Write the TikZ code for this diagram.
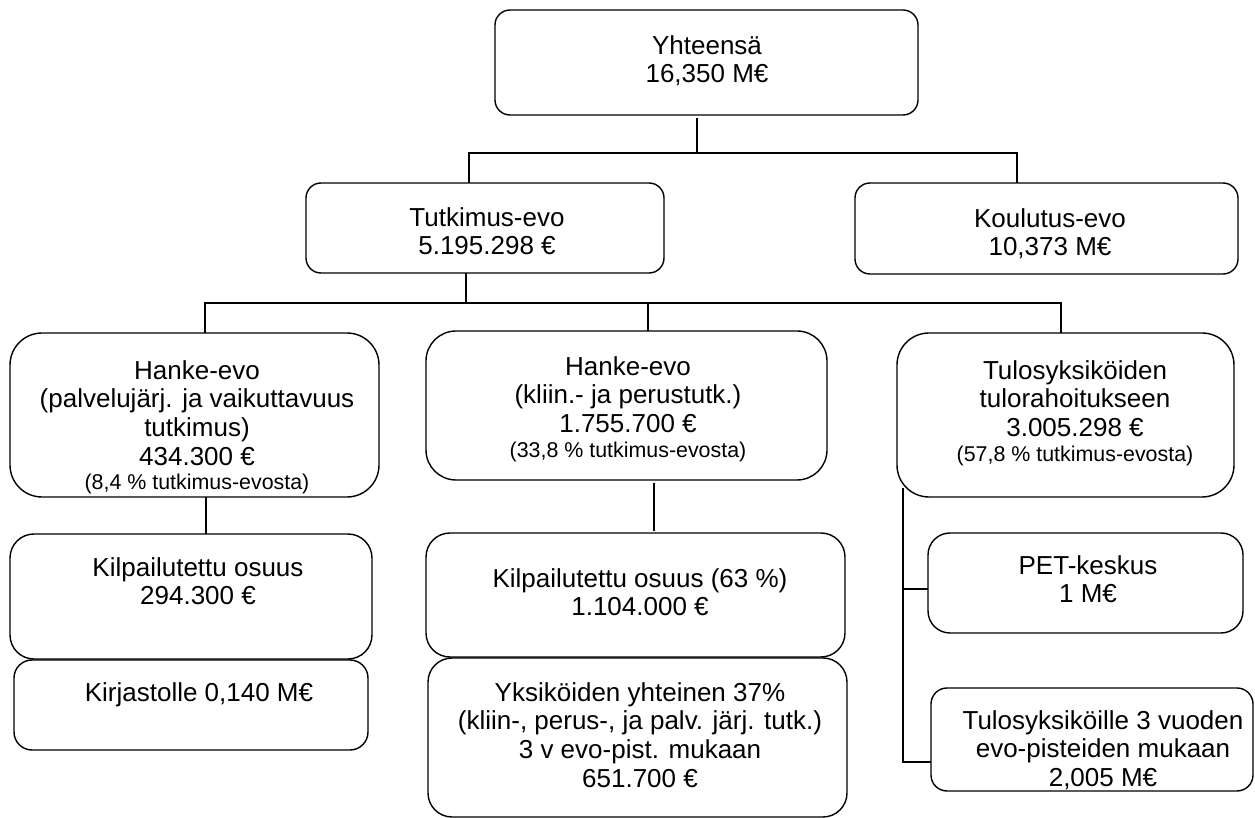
\documentclass[tikz,border=0pt]{standalone}
\usepackage{fontspec}
\setmainfont{Liberation Sans}
\usetikzlibrary{fit}
\newcommand\smalltxt{\fontsize{10.7}{12}\selectfont}
\begin{document}
\begin{tikzpicture}[x=0.5pt,y=-0.5pt,
  box/.style={draw, line width=0.7pt, inner sep=0pt, outer sep=0pt},
  lbl/.style={align=center, inner sep=0pt, anchor=north, font=\fontsize{13}{14.3}\selectfont},
  conn/.style={line width=0.9pt}]
\useasboundingbox (0,0) rectangle (1255,818);

% boxes
\node[box, rounded corners=7.5pt, fit={(495,10)(918,115)}] (Bsum) {};
\node[box, rounded corners=7.5pt, fit={(306,183)(664,273)}] (Btut) {};
\node[box, rounded corners=7.5pt, fit={(855,183)(1238,274)}] (Bkou) {};
\node[box, rounded corners=16pt, fit={(10,333)(379,497)}] (Bh1) {};
\node[box, rounded corners=12pt, fit={(10,534)(372,659)}] (Bk1) {};
\node[box, rounded corners=9pt, fit={(14,660)(368,750)}] (Bkir) {};
\node[box, rounded corners=15pt, fit={(426,331)(827,480)}] (Bh2) {};
\node[box, rounded corners=12pt, fit={(426,533)(845,657)}] (Bk2) {};
\node[box, rounded corners=12pt, fit={(428,658)(847,817)}] (Byk) {};
\node[box, rounded corners=16pt, fit={(897,333)(1234,497)}] (Btul) {};
\node[box, rounded corners=11pt, fit={(928,533)(1243,633)}] (Bpet) {};
\node[box, rounded corners=8pt, fit={(931,688)(1253,791)}] (Bty) {};

% texts
\node[lbl] (Tsum) at (707,35) {Yhteensä\\16,350 M€};
\node[lbl] (Ttut) at (487,207) {Tutkimus-evo\\5.195.298 €};
\node[lbl] (Tkou) at (1050,208) {Koulutus-evo\\10,373 M€};
\node[lbl] (Th1) at (197,360) {Hanke-evo\\(palvelujärj. ja vaikuttavuus\\tutkimus)\\434.300 €\\[-2pt]{\smalltxt (8,4 \% tutkimus-evosta)}};
\node[lbl] (Tk1) at (198,557) {Kilpailutettu osuus\\294.300 €};
\node[lbl] (Tkir) at (199,682) {Kirjastolle 0,140 M€};
\node[lbl] (Th2) at (628,356) {Hanke-evo\\(kliin.- ja perustutk.)\\1.755.700 €\\[-2pt]{\smalltxt (33,8 \% tutkimus-evosta)}};
\node[lbl] (Tk2) at (640,568) {Kilpailutettu osuus (63 \%)\\1.104.000 €};
\node[lbl] (Tyk) at (640,682) {Yksiköiden yhteinen 37\%\\(kliin-, perus-, ja palv. järj. tutk.)\\3 v evo-pist. mukaan\\651.700 €};
\node[lbl] (Ttul) at (1075,360) {Tulosyksiköiden\\tulorahoitukseen\\3.005.298 €\\[-2pt]{\smalltxt (57,8 \% tutkimus-evosta)}};
\node[lbl] (Tpet) at (1088,555) {PET-keskus\\1 M€};
\node[lbl] (Tty) at (1103,710) {Tulosyksiköille 3 vuoden\\evo-pisteiden mukaan\\2,005 M€};

% junction coordinates
\coordinate (a0) at (697,118);
\coordinate (a1) at (697,153);
\coordinate (aL) at (469,153);
\coordinate (aR) at (1017,153);
\coordinate (b1) at (466,303);
\coordinate (bL) at (205,303);
\coordinate (bM) at (648,303);
\coordinate (bR) at (1061,303);
\coordinate (c0) at (206,497);
\coordinate (d0) at (654,483);
\coordinate (d1) at (654,531);
\coordinate (e0) at (903,488);
\coordinate (e1) at (903,589);
\coordinate (e2) at (903,762);

% connectors
\draw[conn] (a0) -- (a1);
\draw[conn] (Btut.north -| aL) -- (aL) -- (aR) -- (Bkou.north -| aR);
\draw[conn] (Btut.south -| b1) -- (b1);
\draw[conn] (Bh1.north -| bL) -- (bL) -- (bR) -- (Btul.north -| bR);
\draw[conn] (bM) -- (Bh2.north -| bM);
\draw[conn] (Bh1.south -| c0) -- (Bk1.north -| c0);
\draw[conn] (d0) -- (d1);
\draw[conn] (e0) -- (e2) -- (Bty.west |- e2);
\draw[conn] (e1) -- (Bpet.west |- e1);
\end{tikzpicture}
\end{document}
